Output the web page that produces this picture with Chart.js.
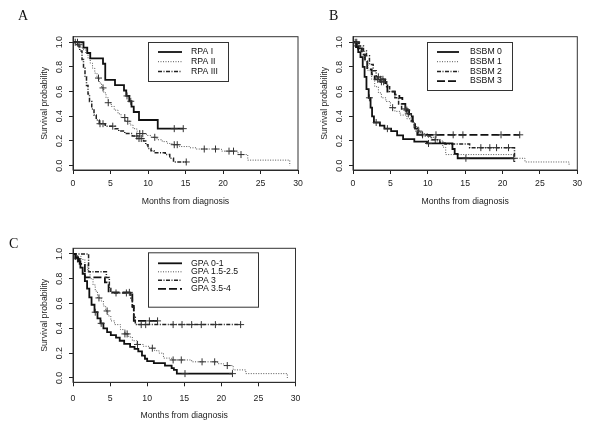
<!DOCTYPE html>
<html>
<head>
<meta charset="utf-8">
<script src="https://cdn.jsdelivr.net/npm/chart.js@4.4.1/dist/chart.umd.min.js"></script>
<style>
  html, body { margin: 0; padding: 0; background: #fff; }
  #wrap { position: relative; width: 600px; height: 434px; overflow: hidden; }
  canvas { position: absolute; }
  .tag { position: absolute; font: 14px/14px "Liberation Serif", "Times New Roman", serif; color: #111; }
</style>
</head>
<body>
<div id="wrap">
  <canvas id="panelA" width="306" height="210" style="left:0;top:0"></canvas>
  <canvas id="panelB" width="300" height="210" style="left:300px;top:0"></canvas>
  <canvas id="panelC" width="300" height="224" style="left:0;top:210px"></canvas>
  <div class="tag" style="left:18px;top:9px">A</div>
  <div class="tag" style="left:329px;top:9px">B</div>
  <div class="tag" style="left:9px;top:237px">C</div>
</div>
<script>
// ticks
const monthTicks = [0, 5, 10, 15, 20, 25, 30];
const probTicks = [0, 0.2, 0.4, 0.6, 0.8, 1.0];
const xTitle = 'Months from diagnosis';
const yTitle = 'Survival probability';

// Kaplan-Meier steps: [month, survival after the drop]; censored months separately
// Panel A - RPA class
const rpaI = [[0,1],[1.4,0.957],[1.9,0.913],[2.3,0.87],[4.0,0.826],[4.3,0.696],[5.6,0.652],[6.8,0.609],[7.1,0.565],[7.5,0.522],[7.8,0.478],[8.1,0.435],[8.8,0.37],[11.3,0.30]];
const rpaICens = [0.6, 7.2, 7.7, 13.5, 14.7];
const rpaII = [[0,1],[0.4,0.98],[0.9,0.96],[1.3,0.94],[1.7,0.91],[2.0,0.87],[2.3,0.83],[2.6,0.79],[2.9,0.75],[3.2,0.71],[3.5,0.67],[3.8,0.63],[4.1,0.59],[4.4,0.55],[4.7,0.51],[5.1,0.48],[5.5,0.45],[6.0,0.42],[6.4,0.39],[7.0,0.36],[7.6,0.33],[8.0,0.30],[8.5,0.28],[8.9,0.26],[9.8,0.245],[10.4,0.23],[11.2,0.21],[11.9,0.195],[12.6,0.18],[13.2,0.17],[14.2,0.155],[15.5,0.145],[16.4,0.135],[19.8,0.118],[22.0,0.09],[23.3,0.045],[28.9,0.0]];
const rpaIICens = [0.8, 3.4, 4.0, 4.7, 6.9, 7.3, 8.9, 9.3, 10.9, 13.5, 13.9, 17.5, 19.0, 20.8, 21.4, 22.4];
const rpaIII = [[0,1],[0.5,0.97],[0.9,0.93],[1.2,0.86],[1.4,0.79],[1.6,0.72],[1.8,0.65],[2.0,0.58],[2.2,0.52],[2.5,0.46],[2.8,0.41],[3.1,0.37],[3.5,0.34],[4.3,0.32],[5.6,0.30],[6.1,0.28],[6.9,0.26],[7.9,0.24],[8.6,0.22],[9.4,0.20],[9.7,0.17],[10.0,0.14],[10.4,0.12],[10.8,0.105],[12.3,0.09],[12.9,0.06],[13.4,0.03]];
const rpaIIICens = [0.3, 3.6, 4.0, 5.3, 8.5, 8.8, 9.1, 15.1];

// Panel B - number of brain metastases
const bsbm0 = [[0,1],[0.4,0.96],[0.7,0.92],[1.0,0.88],[1.3,0.80],[1.55,0.72],[1.8,0.62],[2.1,0.55],[2.35,0.47],[2.55,0.40],[2.8,0.35],[3.6,0.325],[4.2,0.30],[5.1,0.28],[5.9,0.245],[6.7,0.215],[8.2,0.195],[9.9,0.18],[13.3,0.135],[13.6,0.095],[14.0,0.06]];
const bsbm0Cens = [0.3, 2.2, 3.1, 4.6, 10.1, 15.1, 21.5];
const bsbm1 = [[0,1],[0.5,0.97],[1.0,0.93],[1.5,0.85],[2.0,0.77],[2.5,0.70],[2.9,0.64],[3.4,0.59],[3.8,0.55],[4.4,0.52],[5.0,0.47],[5.6,0.44],[6.3,0.41],[7.2,0.38],[7.8,0.35],[8.1,0.32],[8.5,0.28],[9.0,0.26],[10.0,0.23],[11.0,0.20],[12.0,0.15],[12.4,0.09],[21.6,0.06],[23.0,0.03],[28.9,0.0]];
const bsbm1Cens = [0.6, 5.3, 8.8];
const bsbm2 = [[0,1],[0.6,0.97],[1.4,0.93],[1.8,0.89],[2.2,0.82],[2.7,0.77],[3.1,0.72],[3.6,0.68],[4.5,0.64],[4.9,0.60],[5.6,0.55],[6.1,0.50],[6.5,0.46],[7.2,0.42],[7.8,0.36],[8.2,0.31],[8.7,0.27],[9.3,0.24],[10.5,0.21],[11.6,0.19],[12.3,0.175],[15.6,0.146],[21.6,0.03]];
const bsbm2Cens = [0.5, 3.4, 3.8, 4.1, 7.0, 7.4, 11.0, 17.1, 18.3, 19.2, 20.8];
const bsbm3 = [[0,1],[0.8,0.95],[1.2,0.90],[1.6,0.85],[1.9,0.78],[2.5,0.74],[2.9,0.70],[4.3,0.65],[4.6,0.60],[5.6,0.575],[6.2,0.55],[6.6,0.50],[7.0,0.45],[7.5,0.40],[8.0,0.35],[8.3,0.30],[8.6,0.25]];
const bsbm3Cens = [3.3, 3.7, 4.0, 7.2, 9.3, 11.1, 13.4, 14.7, 19.8, 22.3];

// Panel C - GPA score
const gpa01 = [[0,1],[0.3,0.97],[0.7,0.94],[1.0,0.89],[1.3,0.84],[1.6,0.78],[1.9,0.72],[2.2,0.65],[2.5,0.59],[2.9,0.53],[3.3,0.48],[3.7,0.44],[4.1,0.40],[4.6,0.37],[5.1,0.345],[5.8,0.325],[6.3,0.30],[6.9,0.275],[7.7,0.25],[8.3,0.235],[8.8,0.215],[9.3,0.18],[9.7,0.155],[10.0,0.135],[10.9,0.12],[12.4,0.10],[13.3,0.08],[13.6,0.065],[14.0,0.035]];
const gpa01Cens = [3.0, 3.8, 15.1, 21.5];
const gpa1525 = [[0,1],[0.5,0.98],[1.1,0.955],[1.6,0.91],[2.0,0.86],[2.3,0.80],[2.7,0.75],[3.0,0.70],[3.3,0.645],[3.8,0.62],[4.1,0.58],[4.4,0.54],[4.7,0.50],[5.1,0.46],[5.6,0.43],[6.4,0.39],[7.0,0.355],[7.5,0.33],[8.0,0.30],[8.6,0.27],[9.5,0.255],[10.3,0.24],[11.0,0.22],[11.6,0.20],[12.2,0.16],[13.3,0.145],[16.0,0.13],[19.5,0.115],[20.3,0.10],[21.6,0.065],[23.3,0.035],[28.9,0.0]];
const gpa1525Cens = [3.5, 4.6, 7.0, 7.3, 8.7, 10.7, 13.5, 14.6, 17.4, 19.1, 20.8];
const gpa3 = [[0,1],[2.1,0.855],[4.5,0.81],[4.9,0.72],[5.1,0.685],[7.8,0.645],[8.0,0.57],[8.2,0.49],[8.4,0.43]];
const gpa3Cens = [5.8, 7.2, 9.2, 9.8, 13.5, 14.7, 16.0, 17.3, 19.2, 22.6];
const gpa354 = [[0,1],[0.4,0.96],[0.9,0.92],[1.6,0.81],[4.3,0.77],[4.8,0.69],[8.0,0.58],[8.2,0.46]];
const gpa354Cens = [0.6, 7.6, 10.3, 11.4];

const INK = '#222';
const FONT = { family: '"Liberation Sans", Arial, sans-serif', size: 8.7 };

const LINE_STYLES = {
    solid:   { borderColor: '#111', borderWidth: 1.8, borderDash: [] },
    dotted:  { borderColor: '#555', borderWidth: 1, borderDash: [1, 1.5] },
    dashdot: { borderColor: '#222', borderWidth: 1.5, borderDash: [4, 1.5, 1, 1.5] },
    dashed:  { borderColor: '#111', borderWidth: 1.8, borderDash: [8, 3] }
};

// merge steps and censor times; censored points sit on the current step level
function kmPoints(steps, cens) {
    const pts = steps.map(([x, y]) => ({ x, y, c: 0 }));
    cens.forEach(t => {
        let y = 1;
        steps.forEach(([x, s]) => { if (x <= t) y = s; });
        pts.push({ x: t, y, c: 1 });
    });
    return pts.sort((a, b) => a.x - b.x || a.c - b.c);
}

function curve(label, steps, cens, style) {
    return {
        label,
        data: kmPoints(steps, cens),
        stepped: true,
        tension: 0,
        fill: false,
        ...LINE_STYLES[style],
        pointStyle: 'cross',
        pointRadius: ctx => (ctx.raw && ctx.raw.c ? 3.5 : 0),
        pointHoverRadius: 0,
        pointBorderWidth: 1,
        pointBorderColor: '#333'
    };
}

const plotBox = {
    id: 'plotBox',
    afterDatasetsDraw(chart) {
        const { left, top, right, bottom } = chart.chartArea;
        const ctx = chart.ctx;
        ctx.save();
        ctx.strokeStyle = '#333';
        ctx.lineWidth = 1;
        ctx.strokeRect(left, top, right - left, bottom - top);
        ctx.restore();
    }
};

const kmLegend = {
    id: 'kmLegend',
    afterDraw(chart, args, o) {
        const ctx = chart.ctx;
        ctx.save();
        ctx.fillStyle = '#fff';
        ctx.fillRect(o.x, o.y, o.w, o.h);
        ctx.strokeStyle = '#333';
        ctx.lineWidth = 1;
        ctx.strokeRect(o.x + 0.5, o.y + 0.5, o.w, o.h);
        ctx.font = FONT.size + 'px ' + FONT.family;
        ctx.textBaseline = 'middle';
        chart.data.datasets.forEach((ds, i) => {
            const y = o.rowY + i * o.rowGap;
            ctx.beginPath();
            ctx.setLineDash(ds.borderDash);
            ctx.lineWidth = ds.borderWidth;
            ctx.strokeStyle = ds.borderColor;
            ctx.moveTo(o.lineX0, y);
            ctx.lineTo(o.lineX1, y);
            ctx.stroke();
            ctx.setLineDash([]);
            ctx.fillStyle = '#111';
            ctx.fillText(ds.label, o.textX, y);
        });
        ctx.restore();
    }
};

function makeChart(id, datasets, geo) {
    return new Chart(document.getElementById(id), {
        type: 'line',
        data: { datasets },
        plugins: [plotBox, kmLegend],
        options: {
            responsive: false,
            animation: false,
            events: [],
            layout: { padding: { left: 0, right: geo.padRight, top: geo.padTop, bottom: 0 } },
            plugins: { legend: { display: false }, tooltip: { enabled: false }, kmLegend: geo.legend },
            scales: {
                x: {
                    type: 'linear', min: 0, max: 30,
                    afterBuildTicks: s => { s.ticks = monthTicks.map(v => ({ value: v })); },
                    afterFit: s => { s.height = geo.xHeight; s.paddingLeft = 0; s.paddingRight = 0; },
                    grid: { drawOnChartArea: false, tickLength: 4, color: INK },
                    border: { color: INK },
                    ticks: { font: FONT, color: INK, padding: geo.xTickPad, maxRotation: 0 },
                    title: { display: true, text: xTitle, font: FONT, color: INK, padding: { top: 0, bottom: geo.xTitlePad } }
                },
                y: {
                    type: 'linear', min: -0.035, max: 1.045,
                    afterBuildTicks: s => { s.ticks = probTicks.map(v => ({ value: v })); },
                    afterFit: s => { s.width = geo.yWidth; s.paddingTop = 0; s.paddingBottom = 0; },
                    grid: { drawOnChartArea: false, tickLength: 4, color: INK },
                    border: { color: INK },
                    ticks: {
                        font: FONT, color: INK, padding: 3,
                        minRotation: 90, maxRotation: 90, crossAlign: 'center',
                        callback: v => v.toFixed(1)
                    },
                    title: { display: true, text: yTitle, font: FONT, color: INK, padding: { top: geo.yTitlePad, bottom: 0 } }
                }
            }
        }
    });
}

makeChart('panelA', [
    curve('RPA I', rpaI, rpaICens, 'solid'),
    curve('RPA II', rpaII, rpaIICens, 'dotted'),
    curve('RPA III', rpaIII, rpaIIICens, 'dashdot')
], {
    padRight: 8, padTop: 36.7, xHeight: 40, yWidth: 73,
    xTickPad: 4, xTitlePad: 2.8, yTitlePad: 39.8,
    legend: { x: 148, y: 42, w: 80, h: 39, rowY: 52, rowGap: 9.7, lineX0: 158, lineX1: 182, textX: 191 }
});

makeChart('panelB', [
    curve('BSBM 0', bsbm0, bsbm0Cens, 'solid'),
    curve('BSBM 1', bsbm1, bsbm1Cens, 'dotted'),
    curve('BSBM 2', bsbm2, bsbm2Cens, 'dashdot'),
    curve('BSBM 3', bsbm3, bsbm3Cens, 'dashed')
], {
    padRight: 22.7, padTop: 36.7, xHeight: 40, yWidth: 53,
    xTickPad: 4, xTitlePad: 2.8, yTitlePad: 19.8,
    legend: { x: 127, y: 42, w: 85, h: 48, rowY: 52, rowGap: 9.7, lineX0: 137, lineX1: 159, textX: 170 }
});

makeChart('panelC', [
    curve('GPA 0-1', gpa01, gpa01Cens, 'solid'),
    curve('GPA 1.5-2.5', gpa1525, gpa1525Cens, 'dotted'),
    curve('GPA 3', gpa3, gpa3Cens, 'dashdot'),
    curve('GPA 3.5-4', gpa354, gpa354Cens, 'dashed')
], {
    padRight: 2, padTop: 38.3, xHeight: 51.7, yWidth: 73,
    xTickPad: 6.8, xTitlePad: 12.8, yTitlePad: 39.8,
    legend: { x: 148, y: 42.3, w: 110, h: 54.4, rowY: 53.3, rowGap: 8.5, lineX0: 158, lineX1: 182, textX: 191 }
});
</script>
</body>
</html>
